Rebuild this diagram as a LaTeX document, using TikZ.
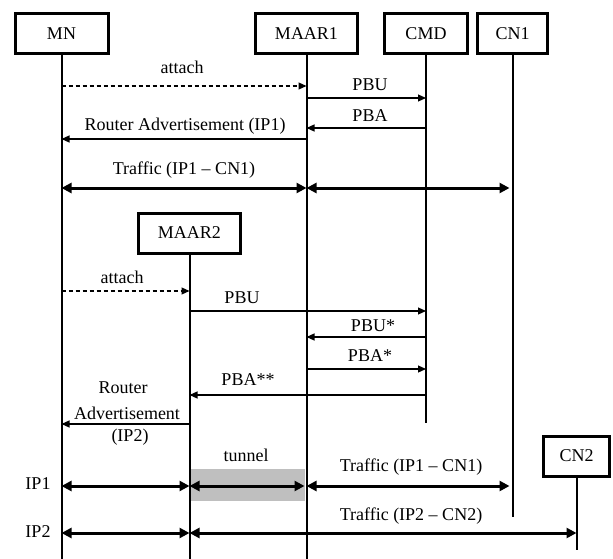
\documentclass[tikz,border=0pt]{standalone}
\usepackage{fontspec}
\setmainfont{Liberation Serif}
\usetikzlibrary{arrows.meta}
\begin{document}
\begin{tikzpicture}[x=1pt,y=-1pt,
 actor/.style={draw,line width=3pt,minimum height=40pt,inner sep=0pt,font=\fontsize{18}{20}\selectfont},
 life/.style={line width=2pt},
 msg/.style={line width=1.2pt,-{Triangle[length=8pt,width=7pt]}},
 dmsg/.style={msg,dash pattern=on 4pt off 3pt},
 big/.style={line width=3pt,{Triangle[length=10pt,width=10pt]}-{Triangle[length=10pt,width=10pt]}},
 lbl/.style={font=\fontsize{18}{20}\selectfont,inner sep=0pt}
]
\useasboundingbox (0,0) rectangle (613,559);
% actors
\node[actor,minimum width=93pt] (mn) at (61.5,33.5) {MN};
\node[actor,minimum width=102pt] (maar1) at (306.5,33.5) {MAAR1};
\node[actor,minimum width=83pt] (cmd) at (426,33.5) {CMD};
\node[actor,minimum width=70pt] (cn1) at (512.5,33.5) {CN1};
\node[actor,minimum width=102pt] (maar2) at (189.5,233) {MAAR2};
\node[actor,minimum width=66pt] (cn2) at (576.5,456) {CN2};
% tunnel background
\fill[gray!50] (190,469) rectangle (305,501);
% lifelines
\draw[life] (mn.south) -- (mn |- 0,559);
\draw[life] (maar1.south) -- (maar1 |- 0,559);
\draw[life] (cmd.south) -- (cmd |- 0,423);
\draw[life] (cn1.south) -- (cn1 |- 0,517);
\draw[life] (maar2.south) -- (maar2 |- 0,559);
\draw[life] (cn2.south) -- (cn2 |- 0,550);
% phase 1
\draw[dmsg] (mn |- 0,86) -- (maar1 |- 0,86);
\node[lbl] (t1) at (182,67) {attach};
\draw[msg] (maar1 |- 0,98) -- (cmd |- 0,98);
\node[lbl] (t2) at (370,85) {PBU};
\draw[msg] (cmd |- 0,128) -- (maar1 |- 0,128);
\node[lbl] (t3) at (370,116) {PBA};
\draw[msg] (maar1 |- 0,139) -- (mn |- 0,139);
\node[lbl] (t4) at (185,126) {Router Advertisement (IP1)};
\draw[big] (mn |- 0,188) -- (maar1 |- 0,188);
\draw[big,shorten >=3pt] (maar1 |- 0,188) -- (cn1 |- 0,188);
\node[lbl] (t5) at (184,170) {Traffic (IP1 – CN1)};
% phase 2
\draw[dmsg] (mn |- 0,291) -- (maar2 |- 0,291);
\node[lbl] (t6) at (122,277) {attach};
\draw[msg] (maar2 |- 0,311) -- (cmd |- 0,311);
\node[lbl] (t7) at (242,298) {PBU};
\draw[msg] (cmd |- 0,337) -- (maar1 |- 0,337);
\node[lbl] (t8) at (373,326) {PBU*};
\draw[msg] (maar1 |- 0,369) -- (cmd |- 0,369);
\node[lbl] (t9) at (370,356) {PBA*};
\draw[msg] (cmd |- 0,395) -- (maar2 |- 0,395);
\node[lbl] (t10) at (248,380) {PBA**};
\draw[msg] (maar2 |- 0,424) -- (mn |- 0,424);
\node[lbl] (t11a) at (123,388) {Router};
\node[lbl] (t11b) at (127,413) {Advertisement};
\node[lbl] (t11c) at (130,437) {(IP2)};
% traffic
\node[lbl] (t12) at (246,455) {tunnel};
\draw[big] (mn |- 0,486) -- (maar2 |- 0,486);
\draw[big,shorten >=2pt] (maar2 |- 0,486) -- (maar1 |- 0,486);
\draw[big,shorten >=3pt] (maar1 |- 0,486) -- (cn1 |- 0,486);
\node[lbl] (t13) at (411,467) {Traffic (IP1 – CN1)};
\draw[big] (mn |- 0,533) -- (maar2 |- 0,533);
\draw[big] (maar2 |- 0,533) -- (cn2 |- 0,533);
\node[lbl] (t14) at (411,516) {Traffic (IP2 – CN2)};
\node[lbl] (ip1) at (38,484) {IP1};
\node[lbl] (ip2) at (38,532) {IP2};
\end{tikzpicture}
\end{document}
